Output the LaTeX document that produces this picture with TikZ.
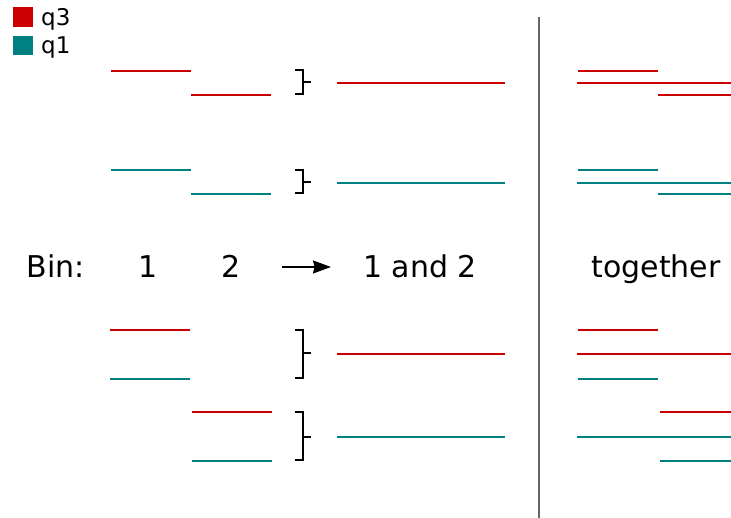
\documentclass[tikz,border=0pt]{standalone}
\usepackage{fontspec}
\setmainfont{DejaVu Sans}
\usetikzlibrary{arrows.meta}
\definecolor{qred}{HTML}{CC0000}
\definecolor{qteal}{HTML}{008080}
\begin{document}
\begin{tikzpicture}[x=1pt,y=-1pt,
  seg/.style={line width=1.8pt},
  r/.style={seg,qred},
  t/.style={seg,qteal},
  brace/.style={line width=2pt,black},
  lbl/.style={font=\fontsize{30}{34}\selectfont,inner sep=0pt,anchor=base},
  leg/.style={font=\fontsize{23}{26}\selectfont,inner sep=0pt,anchor=base west}]
\useasboundingbox (0,0) rectangle (731,518);

% legend
\fill[qred] (13,7) rectangle (33,27);
\fill[qteal] (13,36) rectangle (33,55);
\node[leg] (lq3) at (41,26) {q3};
\node[leg] (lq1) at (41,54) {q1};

% separator
\draw[gray!80!black,line width=1.2pt] (539,17) -- (539,518);

% row labels
\node[lbl] (bin) at (56,278) {Bin:};
\node[lbl] (b1) at (148,278) {1};
\node[lbl] (b2) at (231,278) {2};
\node[lbl] (b12) at (420,278) {1 and 2};
\node[lbl] (tog) at (656,278) {together};
\coordinate (a0) at (282,267);
\coordinate (a1) at (331,267);
\draw[line width=1.3pt,-{Stealth[length=18pt,width=13pt,inset=1.5pt]}] (a0) -- (a1);

% group 1: shifted in time
\draw[r] (111,71) -- (191,71);
\draw[r] (191,95) -- (271,95);
\draw[brace] (295,70) -- (303,70) -- (303,94) -- (295,94);
\draw[brace] (303,82) -- (311,82);
\draw[r] (337,83) -- (505,83);
\draw[r] (578,71) -- (658,71);
\draw[r] (577,83) -- (731,83);
\draw[r] (658,95) -- (731,95);

\draw[t] (111,170) -- (191,170);
\draw[t] (191,194) -- (271,194);
\draw[brace] (295,170) -- (303,170) -- (303,193) -- (295,193);
\draw[brace] (303,182) -- (311,182);
\draw[t] (337,183) -- (505,183);
\draw[t] (578,170) -- (658,170);
\draw[t] (577,183) -- (731,183);
\draw[t] (658,194) -- (731,194);

% group 2: same bin together
\draw[r] (110,330) -- (190,330);
\draw[t] (110,379) -- (190,379);
\draw[brace] (295,330) -- (303,330) -- (303,378) -- (295,378);
\draw[brace] (303,353) -- (311,353);
\draw[r] (337,354) -- (505,354);
\draw[r] (578,330) -- (658,330);
\draw[r] (577,354) -- (731,354);
\draw[t] (578,379) -- (658,379);

\draw[r] (192,412) -- (272,412);
\draw[t] (192,461) -- (272,461);
\draw[brace] (295,412) -- (303,412) -- (303,460) -- (295,460);
\draw[brace] (303,437) -- (311,437);
\draw[t] (337,437) -- (505,437);
\draw[r] (660,412) -- (731,412);
\draw[t] (577,437) -- (731,437);
\draw[t] (660,461) -- (731,461);
\end{tikzpicture}
\end{document}
